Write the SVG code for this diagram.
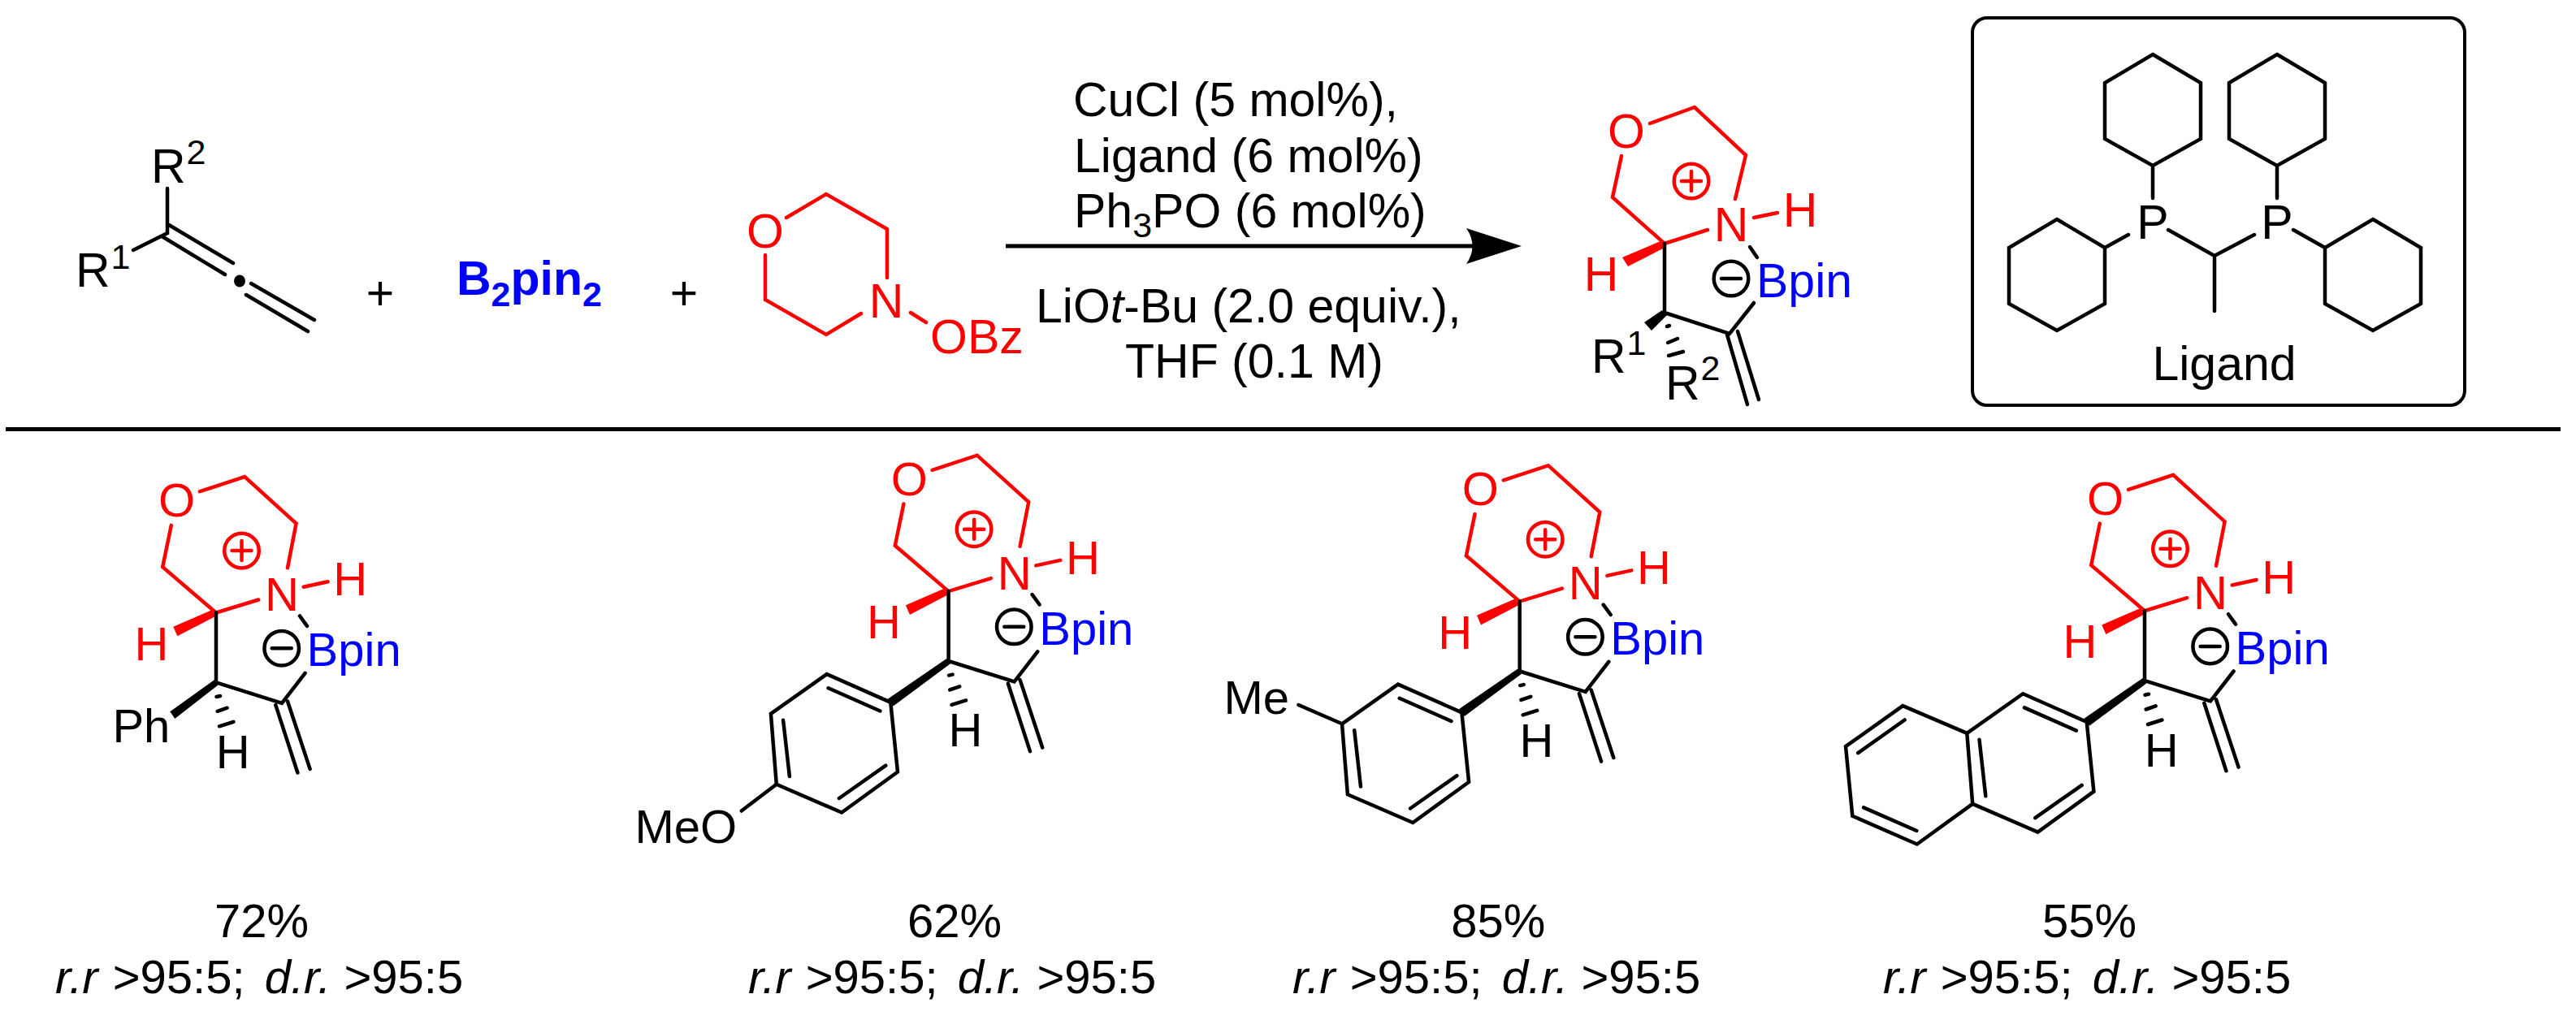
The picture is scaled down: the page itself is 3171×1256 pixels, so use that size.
<svg xmlns="http://www.w3.org/2000/svg" xmlns:xlink="http://www.w3.org/1999/xlink" width="3171" height="1256" viewBox="0 0 3171 1256">
<style>
text{font-family:"Liberation Sans",Arial,sans-serif;font-size:58px;fill:#000}
.t{font-size:59px}
.m{text-anchor:middle}
.r{fill:#f00}
.bl{fill:#00f}
.sm{font-size:43px}
.i{font-style:italic}
.k,.kr{fill:none;stroke-width:4.5;stroke-linecap:round;stroke-linejoin:miter}
.k{stroke:#000}
.kr{stroke:#f00}
.wk{fill:#000}
.wr{fill:#f00}
</style>
<defs>
<marker id="head" markerUnits="userSpaceOnUse" viewBox="0 0 68 44" refX="11" refY="22" markerWidth="68" markerHeight="44" orient="auto"><path d="M0,0L68,22L0,44Q15,22 0,0Z" fill="#000"/></marker>
<g id="core-shapes">
<path class="kr" d="M-20,-149.3L35.2,-167.4L98.6,-110L88,-55.3M-55.2,-107.6L-65.8,-56.3L0,0L52.2,-16M107.7,-31.7L137.6,-38.2"/>
<polygon class="wr" points="-6,-3 0,4 -47.7,28.8 -52.7,17.2"/>
<circle class="kr" cx="31.5" cy="-76.4" r="21.3"/>
<path class="kr" d="M19.5,-76.4H43.5M31.5,-88.4V-64.4"/>
<path class="k" d="M0,0V85.9L81,111.3L109.6,74.3M103,4L112,16.4M73.3,113.6L100.4,197M88,109L115.6,192.4M0.5,103.5L5,102.5M1.7,121.3L13.6,117.2M4,139.8L21.4,134.3"/>
<circle class="k" cx="80.7" cy="43.7" r="21.3"/>
<path class="k" d="M68.7,43.7H92.7"/>
</g>
<g id="aryl-ring">
<polygon class="wk" points="-2.3,82.8 2.3,89.2 -68,141.5 -74.5,132.5"/>
<path class="k" d="M-71.3,136.8L-62.6,222.4L-131.5,272.4L-211.8,237.7L-218.7,150.7L-149.8,102Z"/>
<path class="k" d="M-148,119.2L-84.2,147.4M-134.7,254.9L-77.3,214.6M-203.5,158.6L-195.7,228"/>
</g>
</defs>
<rect width="3171" height="1256" fill="#fff"/>
<g id="connectors">
<line id="arrow" x1="1238" y1="303" x2="1816" y2="303" stroke="#000" stroke-width="5" marker-end="url(#head)"/>
<line id="separator" x1="7" y1="528.5" x2="3152" y2="528.5" stroke="#000" stroke-width="5"/>
</g>
<g id="allene">
<path class="k" d="M206,232V287L164,308M208,277L287,324M201,292L277,338M309,349L387,394M303,363L379,408"/>
<ellipse cx="295" cy="346" rx="7" ry="7.5" class="wk"/>
<text class="t" x="186" y="225">R<tspan class="sm" dy="-23" dx="1">2</tspan></text>
<text class="t" x="93" y="353">R<tspan class="sm" dy="-22" dx="1">1</tspan></text>
</g>
<text id="plus-1" class="t m" x="468" y="381">+</text>
<g id="b2pin2"><text x="562" y="363" class="t bl" font-weight="bold">B<tspan class="sm" dy="14" style="font-weight:bold">2</tspan><tspan dy="-14">pin</tspan><tspan class="sm" dy="14">2</tspan></text></g>
<text id="plus-2" class="t m" x="842" y="381">+</text>
<g id="morpholine">
<path class="kr" d="M968,268L1017,239L1092,282V342M1060,386L1017,412L942,369V314M1121,385L1140,397"/>
<text class="t r m" x="942" y="305">O</text>
<text class="t r m" x="1091" y="391">N</text>
<text class="t r" x="1145" y="435">OBz</text>
</g>
<g id="conditions">
<text class="t" x="1321" y="143">CuCl (5 mol%),</text>
<text class="t" x="1322" y="212">Ligand (6 mol%)</text>
<text class="t" x="1322" y="280">Ph<tspan class="sm" dy="12">3</tspan><tspan dy="-12">PO (6 mol%)</tspan></text>
<text class="t" x="1275" y="397">LiO<tspan class="i">t</tspan>-Bu (2.0 equiv.),</text>
<text class="t" x="1385" y="465">THF (0.1 M)</text>
</g>
<g id="product-top">
<path class="kr" d="M2031,152L2086,132L2149,191L2136,245M1996,192L1985,243L2049,300L2102,283M2159,268L2188,262"/>
<polygon class="wr" points="2044,297 2051,304 2004,328 1997,317"/>
<circle class="kr" cx="2082" cy="223" r="21.3"/>
<path class="kr" d="M2070,223H2094M2082,211V235"/>
<path class="k" d="M2049,300V385L2129,411L2159,373M2154,304L2163,317M2126,412L2151,498M2139,408L2165,492M2052,402L2055,401M2053,422L2065,417M2054,438L2072,433"/>
<polygon class="wk" points="2046,382 2052,388 2033,407 2024,397"/>
<circle class="k" cx="2131" cy="343" r="21.3"/>
<path class="k" d="M2119,343H2143"/>
<text class="t r m" x="2002" y="182">O</text>
<text class="t r m" x="2131" y="297">N</text>
<text class="t r m" x="2216" y="279">H</text>
<text class="t r m" x="1971" y="358">H</text>
<text class="t bl" x="2162" y="366">Bpin</text>
<text class="t" x="1959" y="459">R<tspan class="sm" dy="-22" dx="1">1</tspan></text>
<text class="t" x="2050" y="492">R<tspan class="sm" dy="-24" dx="1">2</tspan></text>
</g>
<g id="ligand-box">
<rect x="2428" y="22" width="606" height="477" rx="18" ry="18" fill="none" stroke="#000" stroke-width="4"/>
<path class="k" d="M2650,67L2709,102V171L2650,204L2591,171V102ZM2650,204V244M2803,67L2862,102V171L2803,204L2744,171V102ZM2803,204V244M2532,270L2591,305V374L2532,407L2473,374V305ZM2591,305L2620,289M2669,283L2726,315L2775,289M2726,315V383M2823,283L2862,305M2921,270L2980,305V374L2921,407L2862,374V305Z"/>
<text class="t m" x="2650" y="294">P</text>
<text class="t m" x="2803" y="294">P</text>
<text class="t m" x="2738" y="468">Ligand</text>
</g>
<g id="product-1" transform="translate(266,754.5)">
<use href="#core-shapes"/>
<polygon class="wk" points="-2.3,82.8 2.3,89.2 -50.8,130.5 -56.6,121.8"/>
<text class="r m" x="-48.4" y="-118.5">O</text><text class="r m" x="81" y="-2.5">N</text><text class="r m" x="165.3" y="-21.5">H</text><text class="r m" x="-79.6" y="58">H</text><text class="bl" x="111.6" y="65.5">Bpin</text><text class="m" x="20.8" y="191.4">H</text>
<text x="-127.6" y="159.8">Ph</text>
</g>
<g id="product-2" transform="translate(1167.6,728.1)">
<use href="#core-shapes"/><use href="#aryl-ring"/>
<path class="k" d="M-254.9,270.4L-211.8,237.7"/>
<text class="r m" x="-48.4" y="-118.5">O</text><text class="r m" x="81" y="-2.5">N</text><text class="r m" x="165.3" y="-21.5">H</text><text class="r m" x="-79.6" y="58">H</text><text class="bl" x="111.6" y="65.5">Bpin</text><text class="m" x="20.8" y="191.4">H</text>
<text x="-386.2" y="310.2">MeO</text>
</g>
<g id="product-3" transform="translate(1870.7,740.6)">
<use href="#core-shapes"/><use href="#aryl-ring"/>
<path class="k" d="M-272.3,127.4L-218.7,150.7"/>
<text class="r m" x="-48.4" y="-118.5">O</text><text class="r m" x="81" y="-2.5">N</text><text class="r m" x="165.3" y="-21.5">H</text><text class="r m" x="-79.6" y="58">H</text><text class="bl" x="111.6" y="65.5">Bpin</text><text class="m" x="20.8" y="191.4">H</text>
<text x="-364.3" y="138">Me</text>
</g>
<g id="product-4" transform="translate(2640,752.2)">
<use href="#core-shapes"/><use href="#aryl-ring"/>
<path class="k" d="M-218.7,150.7L-297.7,116.9L-368,166.9L-359.7,252.6L-280.2,287.3L-211.8,237.7M-295.4,134.3L-352.8,175M-345.9,242.2L-280.7,270.8"/>
<text class="r m" x="-48.4" y="-118.5">O</text><text class="r m" x="81" y="-2.5">N</text><text class="r m" x="165.3" y="-21.5">H</text><text class="r m" x="-79.6" y="58">H</text><text class="bl" x="111.6" y="65.5">Bpin</text><text class="m" x="20.8" y="191.4">H</text>
</g>
<g id="yields">
<text class="m" x="322" y="1154">72%</text>
<text x="68" y="1223"><tspan class="i">r.r</tspan> <tspan dx="2">&gt;95:5;</tspan> <tspan class="i" dx="8">d.r.</tspan> &gt;95:5</text>
<text class="m" x="1175" y="1154">62%</text>
<text x="921" y="1223"><tspan class="i">r.r</tspan> <tspan dx="2">&gt;95:5;</tspan> <tspan class="i" dx="8">d.r.</tspan> &gt;95:5</text>
<text class="m" x="1844.4" y="1154">85%</text>
<text x="1591" y="1223"><tspan class="i">r.r</tspan> <tspan dx="2">&gt;95:5;</tspan> <tspan class="i" dx="8">d.r.</tspan> &gt;95:5</text>
<text class="m" x="2572" y="1154">55%</text>
<text x="2318" y="1223"><tspan class="i">r.r</tspan> <tspan dx="2">&gt;95:5;</tspan> <tspan class="i" dx="8">d.r.</tspan> &gt;95:5</text>
</g>
</svg>
